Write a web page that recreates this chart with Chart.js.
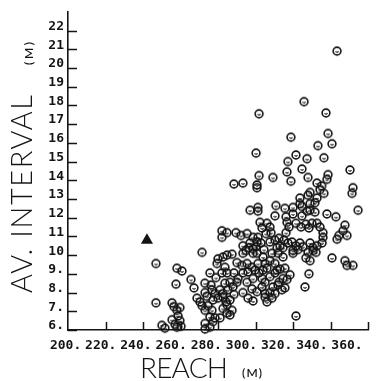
<!DOCTYPE html>
<html>
<head>
<meta charset="utf-8">
<script src="https://cdn.jsdelivr.net/npm/chart.js@4.4.1/dist/chart.umd.min.js"></script>
<style>
  html, body { margin: 0; padding: 0; background: #fff; }
  #wrap { width: 380px; height: 381px; }
</style>
</head>
<body>
<div id="wrap"><canvas id="c"></canvas></div>
<script>
/* ── data: [reach (m), av. interval (m)] ── */
var upperPts = [
  [343.5,20.9],[325.9,18.2],[301.9,17.55],[337.6,17.6],[318.9,16.3],[338.7,16.5],[333.3,15.85],[340.8,15.95],
  [300.3,15.45],[321.6,15.35],[327.5,15.15],[336.5,15.2],[317.3,15.0],[324.8,14.6],[316.8,14.45],[350.4,14.55],
  [301.9,14.25],[309.3,14.15],[288.5,13.8],[293.3,13.85],[318.9,13.95],[328.0,14.15],[332.8,13.85],[338.7,14.3],
  [338.1,14.05],[300.8,13.75],[300.8,13.6],[352.0,13.6],[351.5,13.3],[335.3,13.7],[329.1,13.35],[334.4,13.5],
  [336.5,13.3],[332.8,13.05],[331.7,12.8],[328.0,13.2],[323.7,13.05],[310.9,12.65],[315.7,12.5],[320.0,12.55],
  [324.8,12.6],[329.1,12.4],[331.7,12.3],[310.4,12.1],[316.3,12.05],[320.0,12.2],[324.8,12.1],[327.5,12.35],
  [338.1,12.2],[342.9,12.05],[354.7,12.4],[323.7,12.75],[329.1,12.75],[297.1,12.4],[301.3,12.55],[301.3,12.35]
];
var corePts = [
  [302.4,11.75],[306.1,11.7],[307.7,11.5],[303.5,11.45],[305.6,11.15],[308.3,11.2],[282.1,11.3],[282.1,10.95],
  [284.8,11.2],[289.6,11.2],[292.3,11.05],[295.5,11.15],[298.7,10.95],[301.3,10.95],[316.8,11.75],[317.9,11.5],
  [316.3,11.2],[321.6,11.7],[324.3,11.5],[326.9,11.65],[328.5,11.45],[330.1,11.7],[332.8,11.7],[334.4,11.5],
  [336.0,11.2],[336.0,10.95],[347.7,11.6],[346.7,11.3],[344.5,11.05],[343.5,10.85],[348.8,11.05],
  [293.3,10.5],[294.9,10.25],[296.5,10.4],[293.3,10.1],[298.7,10.35],[300.3,10.45],[302.9,10.65],[304.5,10.3],
  [300.8,10.1],[304.0,9.9],[307.7,10.7],[310.4,10.8],[312.5,10.9],[315.2,10.8],[311.5,10.4],[314.7,10.4],
  [317.3,10.65],[319.5,10.7],[321.6,10.5],[320.0,10.25],[322.7,10.3],[325.3,10.45],[328.0,10.15],[330.7,10.4],
  [332.8,10.5],[332.3,10.15],[326.9,9.85],[329.1,9.7],[335.5,10.65],[271.5,10.15],[280.0,9.8],[282.7,9.9],
  [284.8,10.0],[287.5,10.05],[279.5,9.55],[298.7,10.1],[300.8,10.7],[297.1,10.65]
];
var lowerPts = [
  [290.1,9.6],[292.8,9.45],[295.5,9.55],[298.1,9.35],[296.0,9.1],[293.3,9.05],[299.7,9.2],[301.9,9.05],
  [304.0,9.2],[306.1,9.3],[303.5,8.75],[307.7,8.85],[310.4,9.05],[313.1,9.25],[314.7,8.75],[312.5,8.55],
  [316.8,8.7],[318.4,8.95],[315.7,9.3],[340.8,9.85],[347.7,9.7],[348.8,9.45],[352.0,9.45],[328.5,9.0],
  [305.1,9.55],[307.7,9.7],[310.4,9.55],[311.5,9.2],[314.7,9.9],[312.0,10.1],[308.8,10.1],[313.1,10.5],
  [320.0,10.1],[323.7,10.65],[329.1,10.65],[330.7,10.25],
  [305.1,8.55],[309.3,8.3],[312.0,8.4],[314.1,8.15],[315.7,8.25],[310.4,7.95],[308.8,7.7],[306.1,7.5],
  [305.1,7.95],[296.0,7.7],[298.7,7.55],[298.1,8.2],[300.8,8.05],[303.5,8.3],[305.1,7.75],[307.7,8.0],
  [326.4,8.3],[321.6,6.75]
];
var leftPts = [
  [283.7,9.35],[284.8,9.05],[282.1,9.05],[288.5,9.05],[290.7,8.75],[290.1,8.55],[286.4,8.55],[295.5,8.55],
  [298.7,8.75],[293.3,8.0],[301.3,9.55],[265.6,8.7],[267.2,8.25],[275.7,9.05],[278.9,8.8],[273.0,8.5],
  [273.1,8.0],[274.1,7.8],[276.8,8.15],[278.4,7.95],[281.1,8.15],[276.3,8.4],[283.7,8.5],[288.0,8.3],
  [285.3,8.15],[282.7,7.95],[268.8,7.7],[270.4,7.5],[271.5,7.3],[273.1,7.05],[274.7,7.3],[276.8,7.05],
  [277.3,7.6],[280.0,7.7],[282.7,7.75],[284.3,7.5],[288.5,7.9],[286.4,7.6],[284.8,7.35],[282.7,7.15],
  [287.5,7.05],[286.4,6.8],[284.8,6.9],[281.1,6.65],[278.4,6.65],[275.7,6.7],[277.3,6.45],[275.7,6.15],
  [273.1,6.05],[273.1,6.35],
  [246.9,9.55],[258.1,9.3],[260.8,9.15],[257.6,8.45],[246.9,7.45],[255.5,7.45],[256.5,7.25],[258.1,7.05],
  [259.7,7.2],[258.7,6.75],[259.7,6.5],[257.1,6.3],[255.5,6.55],[258.1,6.15],[260.3,6.2],[250.1,6.25],
  [251.7,6.1]
];
var trianglePts = [[242.1,10.8]];

var xTicks = [200, 220, 240, 260, 280, 300, 320, 340, 360];
var yTicks = [6, 7, 8, 9, 10, 11, 12, 13, 14, 15, 16, 17, 18, 19, 20, 21, 22];

var INK = '#141414';

function toXY(p) { return { x: p[0], y: p[1] }; }

// pen-plotted circle with the little mark inside
function makeDot() {
  var cv = document.createElement('canvas');
  cv.width = 12; cv.height = 12;
  var g = cv.getContext('2d');
  g.strokeStyle = INK;
  g.lineWidth = 1.6;
  g.beginPath(); g.arc(6, 6, 3.9, 0, Math.PI * 2); g.stroke();
  g.lineWidth = 1.1;
  g.beginPath(); g.arc(6, 5.6, 1.5, 0.1 * Math.PI, 0.9 * Math.PI); g.stroke();
  return cv;
}

// ticks point into the plot
var inwardTicks = {
  id: 'inwardTicks',
  afterDraw: function(chart) {
    var ctx = chart.ctx, xs = chart.scales.x, ys = chart.scales.y;
    ctx.save();
    ctx.strokeStyle = INK; ctx.lineWidth = 1.5;
    ctx.beginPath();
    yTicks.forEach(function(v) {
      var py = Math.round(ys.getPixelForValue(v)) + 0.5;
      ctx.moveTo(ys.right, py); ctx.lineTo(ys.right + 9, py);
    });
    xTicks.forEach(function(v, i) {
      if (i === 0) return;
      var px = Math.round(xs.getPixelForValue(v)) + 0.5;
      ctx.moveTo(px, xs.top); ctx.lineTo(px, xs.top - 8);
    });
    ctx.stroke();
    ctx.restore();
  }
};

function spaced(ctx, text, x, y, font, target) {
  ctx.font = font;
  ctx.letterSpacing = '0px';
  var w = ctx.measureText(text).width;
  var ls = target ? (target - w) / Math.max(1, text.length - 1) : 0;
  ctx.letterSpacing = ls.toFixed(2) + 'px';
  ctx.fillText(text, x, y);
}

var axisTitles = {
  id: 'axisTitles',
  afterDraw: function(chart) {
    var ctx = chart.ctx;
    ctx.save();
    ctx.fillStyle = INK;
    ctx.textAlign = 'left';
    ctx.textBaseline = 'alphabetic';
    spaced(ctx, 'REACH', 140, 378, '300 28px Lato', 88);
    spaced(ctx, '(M)', 242, 377, '600 12px Lato', 20);
    ctx.translate(32, 293);
    ctx.rotate(-Math.PI / 2);
    spaced(ctx, 'AV. INTERVAL', 0, 0, '300 29px Lato', 198);
    ctx.rotate(Math.PI / 2);
    ctx.translate(1, -228);
    ctx.rotate(-Math.PI / 2);
    spaced(ctx, '(M)', 0, 0, '600 12px Lato', 23);
    ctx.restore();
  }
};

var tickFont = { family: 'DejaVu Sans Mono', size: 13, weight: 'bold' };

new Chart(document.getElementById('c'), {
  type: 'scatter',
  data: {
    datasets: [
      { data: upperPts.concat(corePts, lowerPts, leftPts).map(toXY),
        pointStyle: makeDot(), pointRadius: 4, clip: false },
      { data: trianglePts.map(toXY),
        pointStyle: 'triangle', pointRadius: 7, backgroundColor: INK, borderWidth: 0, clip: false }
    ]
  },
  options: {
    responsive: true, maintainAspectRatio: false, animation: false, events: [],
    layout: { padding: { top: 8, right: 12, left: 0, bottom: 0 } },
    plugins: { legend: { display: false }, tooltip: { enabled: false } },
    scales: {
      x: {
        type: 'linear', position: 'bottom', weight: 0, min: 200, max: 360,
        grid: { display: false, drawTicks: false },
        border: { display: true, color: INK, width: 1.6 },
        ticks: { display: false },
        afterFit: function(s) { s.height = 0; }
      },
      xLab: {
        // the typed labels run a little tighter than the tick marks
        type: 'linear', position: 'bottom', weight: 1, min: 201.37, max: 371.94,
        grid: { display: false, drawTicks: false },
        border: { display: false },
        afterBuildTicks: function(s) { s.ticks = xTicks.map(function(v) { return { value: v }; }); },
        ticks: { color: INK, font: tickFont, padding: 8, autoSkip: false, maxRotation: 0,
                 callback: function(v) { return v + '.'; } },
        afterFit: function(s) { s.height = 51; }
      },
      y: {
        type: 'linear', min: 6, max: 23,
        grid: { display: false, drawTicks: false },
        border: { display: true, color: INK, width: 1.6 },
        afterBuildTicks: function(s) { s.ticks = yTicks.map(function(v) { return { value: v }; }); },
        ticks: { color: INK, font: tickFont, padding: 4, labelOffset: -4, autoSkip: false,
                 callback: function(v) { return v >= 10 ? String(v) : v + '.'; } },
        afterFit: function(s) { s.width = 68; }
      }
    }
  },
  plugins: [inwardTicks, axisTitles]
});
</script>
</body>
</html>
